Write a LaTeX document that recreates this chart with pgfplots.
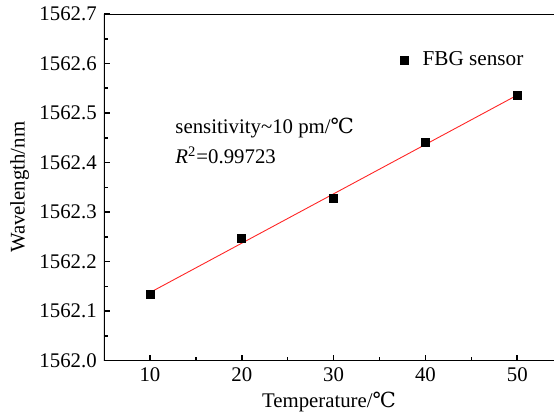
\documentclass[border=0pt]{standalone}
\usepackage{fontspec}
\setmainfont{Liberation Serif}
\newfontfamily\degfont{DejaVu Serif}
\newcommand{\degC}{{\degfont ℃}}
\usepackage{pgfplots}
\pgfplotsset{compat=1.18}
\begin{document}
\fontsize{10.4}{12.5}\selectfont
\begin{tikzpicture}
\begin{axis}[
  name=ax, at={(0,0)}, anchor=south west,
  scale only axis, width=225pt, height=173.3pt,
  xmin=5, xmax=54, ymin=1562.0, ymax=1562.7,
  xtick={10,20,30,40,50}, ytick={1562.0,1562.1,1562.2,1562.3,1562.4,1562.5,1562.6,1562.7},
  minor x tick num=1, minor y tick num=1,
  tick align=inside, xtick pos=bottom, ytick pos=left,
  major tick length=3pt, minor tick length=2pt,
  tick style={black, line width=0.8pt},
  axis line style={draw=none},
  scaled y ticks=false,
  /pgf/number format/assume math mode=true,
  yticklabel style={/pgf/number format/.cd, fixed, fixed zerofill, precision=1, 1000 sep={}},
  ticklabel style={font=\fontsize{10.4}{12}\selectfont},
  xlabel={Temperature/\degC}, ylabel={Wavelength/nm},
  xlabel style={font=\fontsize{10.4}{12}\selectfont, yshift=2pt},
  ylabel style={font=\fontsize{10.4}{12}\selectfont, yshift=-2pt},
  legend style={draw=none, fill=none, at={(0.645,0.867)}, anchor=west, font=\fontsize{10.6}{12}\selectfont},
  legend cell align=left,
  clip=true,
]
\addplot[only marks, mark=square*, mark size=2pt, black] coordinates {
  (10,1562.134) (20,1562.246) (30,1562.328) (40,1562.441) (50,1562.535)
};
\addlegendentry{\hspace{5pt}FBG sensor}
\addplot[red!85!white, line width=0.45pt, forget plot] coordinates {
  (10,1562.1374) (50,1562.5362)
};
\draw[black, line width=1pt] (rel axis cs:0,0) -- (rel axis cs:0,1) -- (rel axis cs:1,1);
\draw[black, line width=1pt] (rel axis cs:0,0) -- (rel axis cs:1,0);
\node[anchor=west, inner sep=0pt] at (rel axis cs:0.158,0.671) {sensitivity\textasciitilde10 pm/\degC};
\node[anchor=west, inner sep=0pt] at (rel axis cs:0.158,0.593) {\textit{R}\textsuperscript{2}=0.99723};
\end{axis}
\pgfresetboundingbox
\path (-52pt,-26.2pt) rectangle (225pt,180.3pt);
\end{tikzpicture}
\end{document}
